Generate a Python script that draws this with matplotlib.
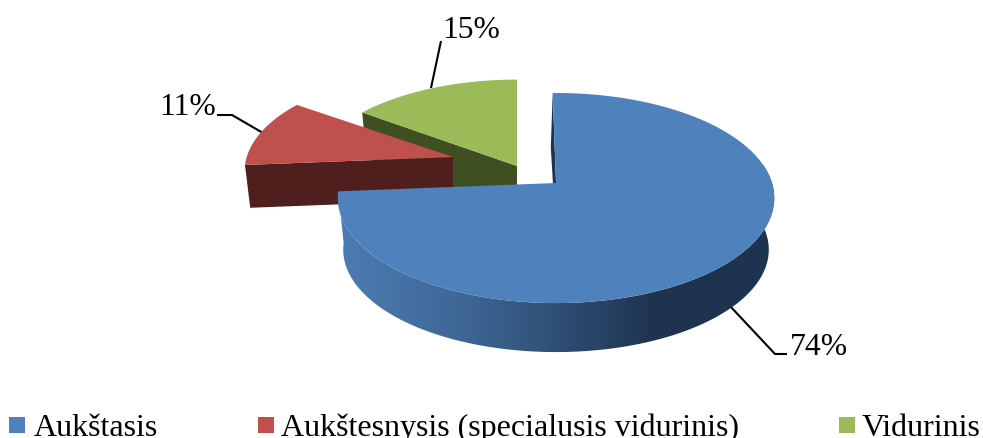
import numpy as np
import matplotlib
matplotlib.use("Agg")
import matplotlib.pyplot as plt
from matplotlib.colors import LinearSegmentedColormap
from matplotlib.patches import Polygon

plt.rcParams["font.family"] = ["Liberation Serif", "DejaVu Serif"]

# Data
categories = ["Aukštasis", "Aukštesnysis (specialusis vidurinis)", "Vidurinis"]
shares = [74, 11, 15]
pct_labels = ["74%", "11%", "15%"]

# Colours
top_colors = ["#4f81bd", "#c0504d", "#9bbb59"]
wall_colors = ["#1d3450", "#4f1f1e", "#404f22"]
side_cmap = LinearSegmentedColormap.from_list(
    "side", [(0, "#4d7cb3"), (0.25, "#40699a"), (0.5, "#2f4f75"), (0.72, "#1e3451"), (1, "#1d3350")]
)

# Pie shape: apex x, apex y, scale of the slice, depth of the slice, turn in degrees
placement = [(556, 184, 1.0, 52, -1.0), (453, 158, 0.955, 43, -1.0), (517, 167, 0.96, 43, 0.0)]
A = 216.0
B = 102.9
K = 0.143
BOTTOM_SCALE = 0.975


def rim(apex_x, apex_y, scale, frac, turn):
    # frac = clockwise part of the full circle, projected with perspective
    t = np.radians(90 - turn - 360 * np.asarray(frac))
    u = np.cos(t)
    v = np.sin(t)
    w = 1 + K * v
    return apex_x + scale * A * u / w, apex_y - scale * B * v / w


fig = plt.figure(figsize=(9.83, 4.39), dpi=100)
ax = fig.add_axes([0, 0, 1, 1])
ax.set_xlim(0, 983)
ax.set_ylim(439, 0)
ax.axis("off")

edges = np.cumsum([0] + shares) / sum(shares)

# Drawn back to front: green, red, blue
z = 2
for i in [2, 1, 0]:
    ax_, ay, s, d, turn = placement[i]
    f = np.linspace(edges[i], edges[i + 1], 150)
    x_top, y_top = rim(ax_, ay, s, f, turn)
    x_bot, y_bot = rim(ax_, ay + d, s * BOTTOM_SCALE, f, turn)

    if i == 0:
        # inner wall at the start of the slice
        wall = [(x_top[0], y_top[0]), (ax_, ay), (ax_, ay + d), (x_bot[0] - 2, y_bot[0])]
        ax.add_patch(Polygon(wall, closed=True, fc=wall_colors[i], ec="none", zorder=z))
        z += 1
        # outer side with shading
        keep = f >= 0.22
        side = np.vstack([
            np.column_stack([x_top[keep], y_top[keep]]),
            np.column_stack([x_bot[keep][::-1], y_bot[keep][::-1]]),
        ])
        clip = Polygon(side, closed=True, fc="none", ec="none", transform=ax.transData)
        ax.add_patch(clip)
        grad = np.linspace(0, 1, 400).reshape(1, -1)
        im = ax.imshow(grad, cmap=side_cmap, vmin=0, vmax=1, aspect="auto",
                       extent=[340, 776, 439, 0], zorder=z, interpolation="bilinear")
        im.set_clip_path(clip)
        ax.set_xlim(0, 983)
        ax.set_ylim(439, 0)
    else:
        # inner wall facing the viewer
        wall = [(x_top[0], y_top[0]), (ax_, ay), (ax_, ay + d), (x_bot[0], y_bot[0])]
        ax.add_patch(Polygon(wall, closed=True, fc=wall_colors[i], ec="none", zorder=z))
    z += 1

    surface = np.vstack([[ax_, ay], np.column_stack([x_top, y_top])])
    ax.add_patch(Polygon(surface, closed=True, fc=top_colors[i], ec="none", zorder=z))
    z += 1

# Leader lines and percent labels
leaders = [
    ([730, 775, 787], [307, 355, 355], (790, 348)),
    ([263, 232, 217], [134, 116, 116], (159, 108)),
    ([431, 441], [89, 42], (442, 31)),
]
for (lx, ly, pos), lab in zip(leaders, pct_labels):
    ax.plot(lx, ly, color="black", lw=1.5, zorder=1, solid_capstyle="butt")
    ax.text(pos[0], pos[1], lab, fontsize=22.8, color="black", ha="left", va="center", zorder=20)

# Legend
square_x = [9, 258, 839]
text_x = [34, 281, 862]
for i, name in enumerate(categories):
    ax.add_patch(plt.Rectangle((square_x[i], 418), 16, 16, fc=top_colors[i], ec="none"))
    ax.text(text_x[i], 436, name, fontsize=23, color="black", ha="left", va="baseline", clip_on=False)

fig.savefig("out.png", dpi=100)
